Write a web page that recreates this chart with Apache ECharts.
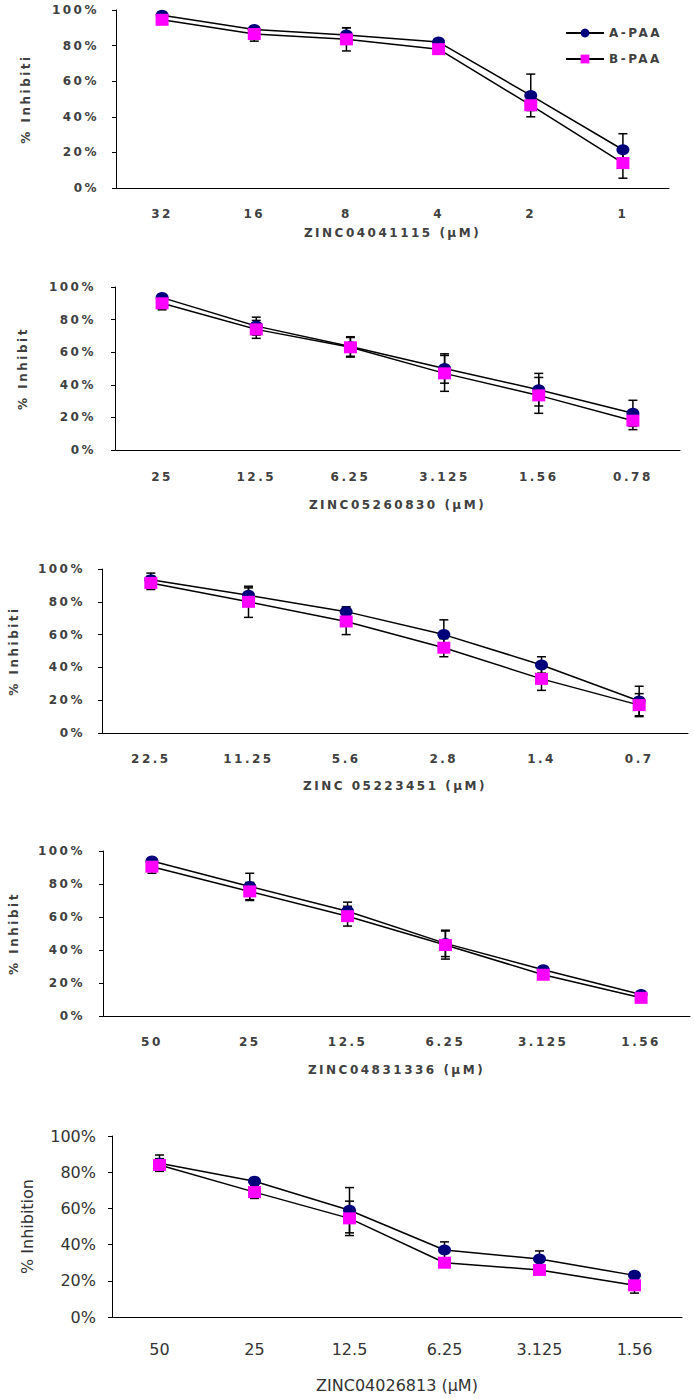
<!DOCTYPE html>
<html>
<head>
<meta charset="utf-8">
<script src="https://cdn.jsdelivr.net/npm/echarts@6/dist/echarts.min.js"></script>
<style>
  html, body { margin: 0; padding: 0; background: #fff; }
  #chart { width: 694px; height: 1399px; }
</style>
</head>
<body>
<div id="chart"></div>
<script>
// concentrations (x categories) and % inhibition means / error sizes
const conc1 = ['32', '16', '8', '4', '2', '1'];
const a1 = [97, 89, 86, 82, 52, 21.5];
const aErr1 = [1, 1, 4, 1, 12, 9];
const b1 = [94.5, 86.5, 83.5, 78, 46.5, 14];
const bErr1 = [1, 4, 6.5, 1, 3, 8.5];

const conc2 = ['25', '12.5', '6.25', '3.125', '1.56', '0.78'];
const a2 = [93.5, 76, 63.5, 50, 37, 22.5];
const aErr2 = [1.5, 5.5, 6, 9, 10, 8];
const b2 = [90, 74, 63, 47, 33.5, 18];
const bErr2 = [4, 5.5, 6, 11, 11, 5.5];

const conc3 = ['22.5', '11.25', '5.6', '2.8', '1.4', '0.7'];
const a3 = [93.5, 84, 74, 60, 41.5, 19.5];
const aErr3 = [4, 4.5, 3, 9, 5, 9];
const b3 = [91.5, 80, 68, 52, 33, 17];
const bErr3 = [4, 9.5, 8, 5.5, 7, 7];

const conc4 = ['50', '25', '12.5', '6.25', '3.125', '1.56'];
const a4 = [94, 78.5, 63.5, 44, 28, 13];
const aErr4 = [1, 8, 5.5, 8, 1.5, 1];
const b4 = [90.5, 75.5, 60.5, 43, 25, 11];
const bErr4 = [4, 5.5, 6, 8.5, 2, 1];

const conc5 = ['50', '25', '12.5', '6.25', '3.125', '1.56'];
const a5 = [85, 75, 59, 37, 32, 23];
const aErr5 = [4.5, 2, 12.5, 4.5, 4.5, 2];
const b5 = [84, 69, 54.5, 30, 26, 17.5];
const bErr5 = [3.5, 3.5, 9.5, 2, 2, 4.3];

const compounds = ['ZINC04041115 (μM)', 'ZINC05260830 (μM)', 'ZINC 05223451 (μM)', 'ZINC04831336 (μM)', 'ZINC04026813 (μM)'];
const yNames = ['% Inhibiti', '% Inhibit', '% Inhibiti', '% Inhibit', '% Inhibition'];

const panels = [
  {conc: conc1, a: a1, aErr: aErr1, b: b1, bErr: bErr1},
  {conc: conc2, a: a2, aErr: aErr2, b: b2, bErr: bErr2},
  {conc: conc3, a: a3, aErr: aErr3, b: b3, bErr: bErr3},
  {conc: conc4, a: a4, aErr: aErr4, b: b4, bErr: bErr4},
  {conc: conc5, a: a5, aErr: aErr5, b: b5, bErr: bErr5}
];

// layout of each panel in px
const layout = [
  {left: 116, right: 25, top: 10, height: 178, yLab: 17, xLab: 20, yGap: 84, xGap: 39},
  {left: 115, right: 14, top: 287, height: 163, yLab: 19, xLab: 21, yGap: 86, xGap: 49},
  {left: 100, right: 6, top: 569, height: 164, yLab: 17, xLab: 20, yGap: 82, xGap: 47},
  {left: 103, right: 4, top: 851, height: 165, yLab: 18, xLab: 20, yGap: 83, xGap: 48},
  {left: 112, right: 12, top: 1136, height: 181, yLab: 16, xLab: 24, yGap: 77, xGap: 60}
];

const oldFont = {fontFamily: 'DejaVu Sans', fontWeight: 'bold', fontSize: 12, color: '#404040'};
const newFont = {fontFamily: 'DejaVu Sans', fontWeight: 'normal', fontSize: 16, color: '#333'};

function errData(vals, errs) {
  return vals.map((v, i) => [i, v - errs[i], v + errs[i]]);
}

function renderErr(params, api) {
  const lo = api.coord([api.value(0), api.value(1)]);
  const hi = api.coord([api.value(0), api.value(2)]);
  const w = 4.5;
  const style = {stroke: '#000', lineWidth: 1.5};
  return {
    type: 'group',
    children: [
      {type: 'line', shape: {x1: lo[0], y1: lo[1], x2: hi[0], y2: hi[1]}, style: style},
      {type: 'line', shape: {x1: lo[0] - w, y1: lo[1], x2: lo[0] + w, y2: lo[1]}, style: style},
      {type: 'line', shape: {x1: hi[0] - w, y1: hi[1], x2: hi[0] + w, y2: hi[1]}, style: style}
    ]
  };
}

const grids = [], xAxes = [], yAxes = [], series = [];

panels.forEach((p, k) => {
  const L = layout[k];
  const f = k === 4 ? newFont : oldFont;
  grids.push({left: L.left, right: L.right, top: L.top, height: L.height});
  xAxes.push({
    type: 'category', gridIndex: k, data: p.conc, boundaryGap: true,
    axisLine: {lineStyle: {color: '#000', width: 1}},
    axisTick: {inside: true, length: 5, lineStyle: {color: '#000'}},
    axisLabel: Object.assign({margin: L.xLab}, f),
    name: compounds[k], nameLocation: 'middle', nameGap: L.xGap,
    nameTextStyle: Object.assign({}, f)
  });
  yAxes.push({
    type: 'value', gridIndex: k, min: 0, max: 100, interval: 20,
    axisLine: {show: true, lineStyle: {color: '#000', width: 1}},
    axisTick: {show: true, length: 4, lineStyle: {color: '#000'}},
    splitLine: {show: false},
    axisLabel: Object.assign({margin: L.yLab, formatter: '{value}%'}, f),
    name: yNames[k], nameLocation: 'middle', nameGap: L.yGap,
    nameTextStyle: Object.assign({}, f)
  });
  series.push({
    type: 'custom', name: 'errA' + k, xAxisIndex: k, yAxisIndex: k,
    renderItem: renderErr, data: errData(p.a, p.aErr), z: 1, silent: true
  });
  series.push({
    type: 'custom', name: 'errB' + k, xAxisIndex: k, yAxisIndex: k,
    renderItem: renderErr, data: errData(p.b, p.bErr), z: 1, silent: true
  });
  series.push({
    type: 'line', name: 'A-PAA', xAxisIndex: k, yAxisIndex: k, data: p.a,
    symbol: 'circle', symbolSize: [13, 11], z: 3,
    lineStyle: {color: '#000', width: 1.5},
    itemStyle: {color: '#00007a', borderWidth: 0}
  });
  series.push({
    type: 'line', name: 'B-PAA', xAxisIndex: k, yAxisIndex: k, data: p.b,
    symbol: 'rect', symbolSize: [13, 12], z: 4,
    lineStyle: {color: '#000', width: 1.5},
    itemStyle: {color: '#ff00ff', borderWidth: 0}
  });
});

const chart = echarts.init(document.getElementById('chart'), null, {renderer: 'svg'});
chart.setOption({
  animation: false,
  backgroundColor: '#fff',
  legend: {
    data: ['A-PAA', 'B-PAA'], orient: 'vertical', left: 560, top: 22,
    itemWidth: 38, itemHeight: 11, itemGap: 14,
    textStyle: oldFont
  },
  grid: grids,
  xAxis: xAxes,
  yAxis: yAxes,
  series: series
});

// the upper four panels use widely spaced lettering
document.querySelectorAll('#chart svg text').forEach(t => {
  if (parseInt(getComputedStyle(t).fontWeight, 10) >= 600) {
    t.setAttribute('letter-spacing', '2.5px');
  }
});
</script>
</body>
</html>
